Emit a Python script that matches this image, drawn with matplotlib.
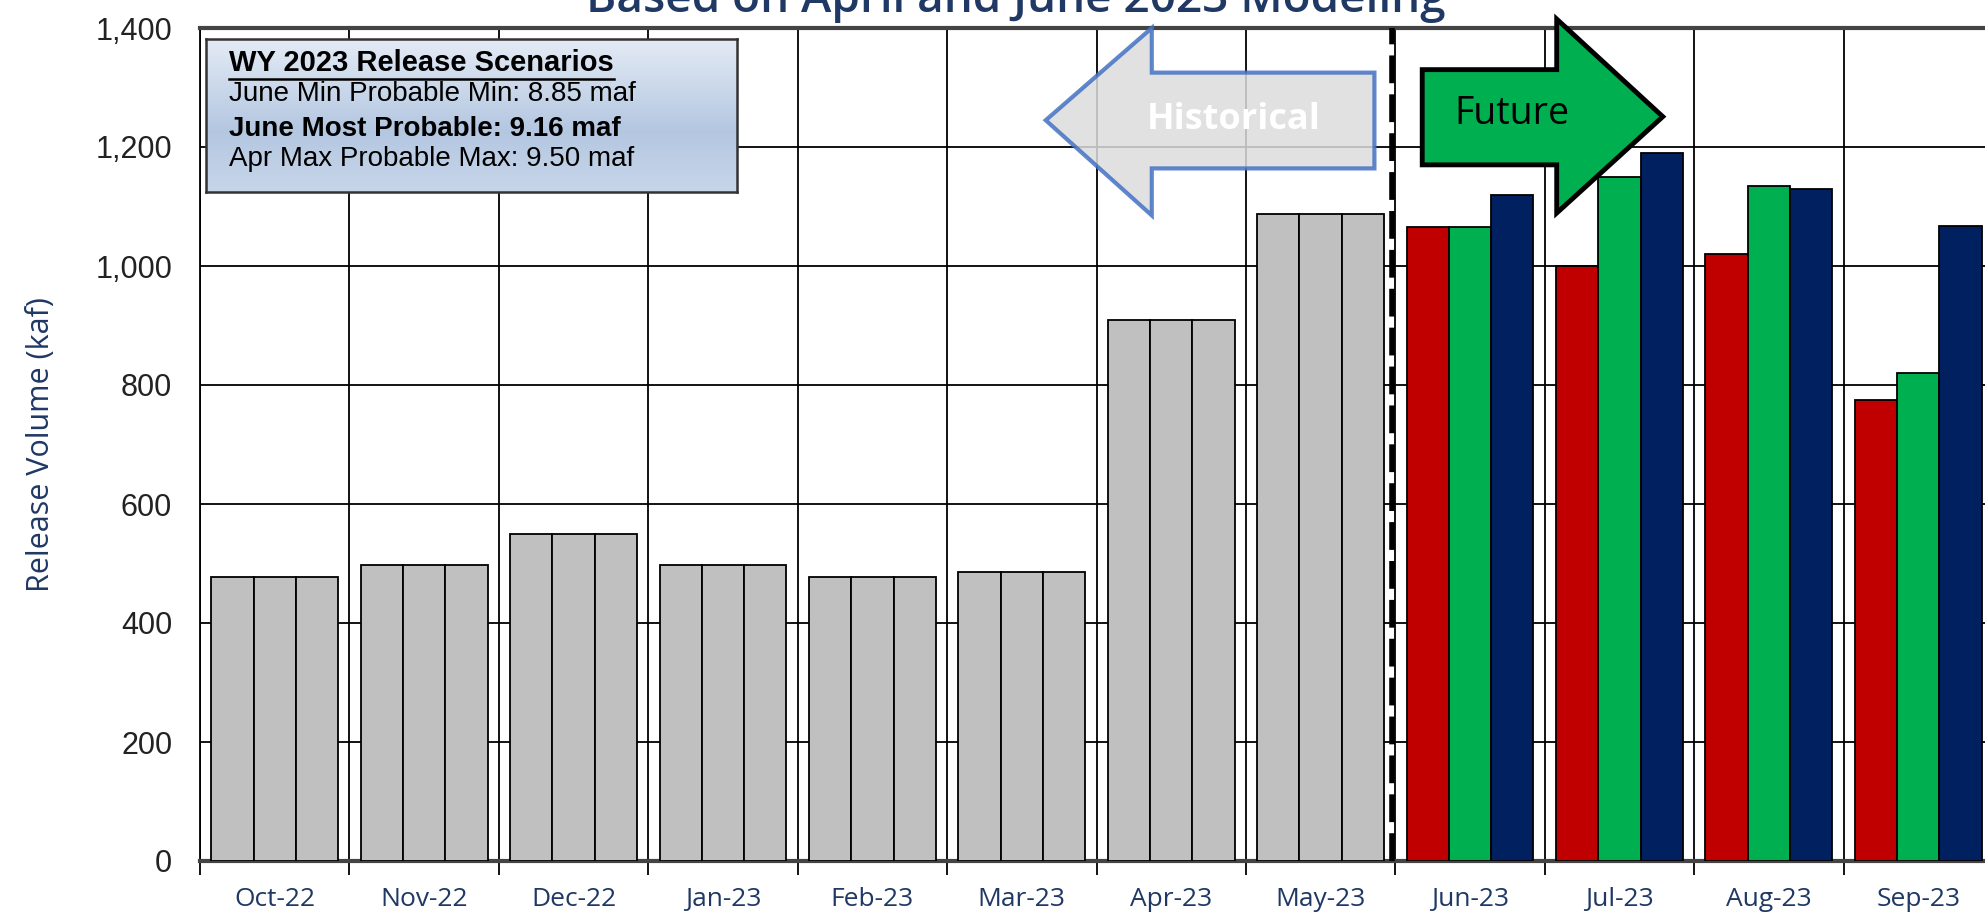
import numpy as np
import matplotlib
matplotlib.use("Agg")
import matplotlib.pyplot as plt
from matplotlib.patches import Polygon

#--------------------- Data ---------------------
months = ["Oct-22", "Nov-22", "Dec-22", "Jan-23", "Feb-23", "Mar-23",
          "Apr-23", "May-23", "Jun-23", "Jul-23", "Aug-23", "Sep-23"]
# kaf, one value per month for each scenario (historical months equal)
june_min = [478, 498, 550, 498, 478, 485, 910, 1088, 1065, 1000, 1020, 775]
june_most = [478, 498, 550, 498, 478, 485, 910, 1088, 1065, 1150, 1135, 820]
apr_max = [478, 498, 550, 498, 478, 485, 910, 1088, 1120, 1190, 1130, 1068]
n_hist = 8

box_title = "WY 2023 Release Scenarios"
box_lines = ["June Min Probable Min: 8.85 maf",
             "June Most Probable: 9.16 maf",
             "Apr Max Probable Max: 9.50 maf"]

NAVY_TXT = "#1F3864"
GREY = "#C0C0C0"
RED = "#C00000"
GREEN = "#00B050"
NAVY = "#002060"

#--------------------- Figure ---------------------
W, H = 1985, 919
fig = plt.figure(figsize=(W / 100, H / 100), dpi=100)
ax = fig.add_axes([200 / W, 1 - 861 / H, 1793 / W, (861 - 28) / H])

x = np.arange(len(months))
bw = 0.283
series = [june_min, june_most, apr_max]
future_cols = [RED, GREEN, NAVY]
for i, vals in enumerate(series):
    cols = [GREY] * n_hist + [future_cols[i]] * (len(months) - n_hist)
    ax.bar(x + (i - 1) * bw, vals, width=bw, color=cols, edgecolor="black",
           linewidth=1.3, zorder=3)

ax.set_xlim(-0.5, len(months) - 0.5)
ax.set_ylim(0, 1400)
ax.set_yticks(np.arange(0, 1401, 200))
ax.set_yticklabels([f"{v:,}" for v in range(0, 1401, 200)],
                   fontsize=22, family="Liberation Sans", color="#222222")
ax.set_xticks(x)
ax.set_xticklabels(months, fontsize=19, family="Open Sans", color=NAVY_TXT)
ax.set_xticks(np.arange(-0.5, len(months), 1.0), minor=True)
ax.tick_params(axis="x", which="major", length=0, pad=19)
ax.tick_params(axis="x", which="minor", length=10, width=1.3, color="black")
ax.tick_params(axis="y", length=0, pad=20)
ax.grid(axis="y", color="black", linewidth=1.3)
ax.grid(axis="x", which="minor", color="black", linewidth=1.3)
ax.set_axisbelow(True)
for s in ["top", "bottom"]:
    ax.spines[s].set_linewidth(3)
    ax.spines[s].set_color("#444444")
ax.spines["left"].set_linewidth(1.3)
ax.spines["right"].set_visible(False)

ax.set_ylabel("Release Volume (kaf)", fontsize=22, family="Open Sans",
              color=NAVY_TXT, labelpad=28)

# split between historical and future
ax.axvline(n_hist - 0.52, color="black", linewidth=4, linestyle=(0, (5, 2)),
           zorder=4)

# arrows
hist_arrow = Polygon([[5.16, 1245], [5.87, 1400], [5.87, 1325], [7.36, 1325],
                      [7.36, 1164], [5.87, 1164], [5.87, 1085]],
                     closed=True, facecolor="#DCDCDC", alpha=0.85,
                     edgecolor="#4472C4", linewidth=3, zorder=5, clip_on=False)
ax.add_patch(hist_arrow)
ax.text(6.42, 1245, "Historical", ha="center", va="center", color="white",
        fontsize=26, fontweight="bold", family="Open Sans", zorder=6)

fut_arrow = Polygon([[7.68, 1330], [8.58, 1330], [8.58, 1415], [9.29, 1251],
                     [8.58, 1089], [8.58, 1170], [7.68, 1170]],
                    closed=True, facecolor=GREEN, edgecolor="black",
                    linewidth=3.5, zorder=5, clip_on=False)
ax.add_patch(fut_arrow)
ax.text(8.28, 1255, "Future", ha="center", va="center", color="black",
        fontsize=27, family="Open Sans", zorder=6)

# title (cut off at the top of the picture)
fig.text(1016 / W, 1 - 12 / H, "Based on April and June 2023 Modeling",
         ha="center", va="baseline", fontsize=33, family="Open Sans",
         fontweight="semibold", color=NAVY_TXT)

#--------------------- Scenario box ---------------------
bax = fig.add_axes([206 / W, 1 - 192 / H, (737 - 206) / W, (192 - 39) / H])
grad = np.interp(np.linspace(0, 1, 200), [0, 0.6, 1], [0, 1, 0.6])
c_top = np.array([0xE4, 0xEB, 0xF5]) / 255
c_mid = np.array([0xB4, 0xC7, 0xE1]) / 255
img = c_top[None, :] + grad[:, None] * (c_mid - c_top)[None, :]
bax.imshow(img[:, None, :], aspect="auto", extent=[0, 1, 0, 1])
bax.set_xticks([])
bax.set_yticks([])
for s in bax.spines.values():
    s.set_linewidth(1.8)
    s.set_color("#333333")
bax.set_xlim(0, 1)
bax.set_ylim(0, 1)
t = bax.text(0.043, 1 - 24 / 153, box_title, fontsize=21, fontweight="bold",
             family="Liberation Sans", va="center", ha="left")
ys = [55, 90, 120]
for yy, line, bold in zip(ys, box_lines, [False, True, False]):
    bax.text(0.043, 1 - yy / 153, line, fontsize=20, va="center", ha="left",
             family="Liberation Sans", fontweight="bold" if bold else "normal")

# underline the box title to its drawn width
fig.canvas.draw()
bb = t.get_window_extent().transformed(bax.transAxes.inverted())
bax.plot([bb.x0, bb.x1], [bb.y0 - 0.01] * 2, color="black", linewidth=1.8)

fig.savefig("out.png", dpi=100)
